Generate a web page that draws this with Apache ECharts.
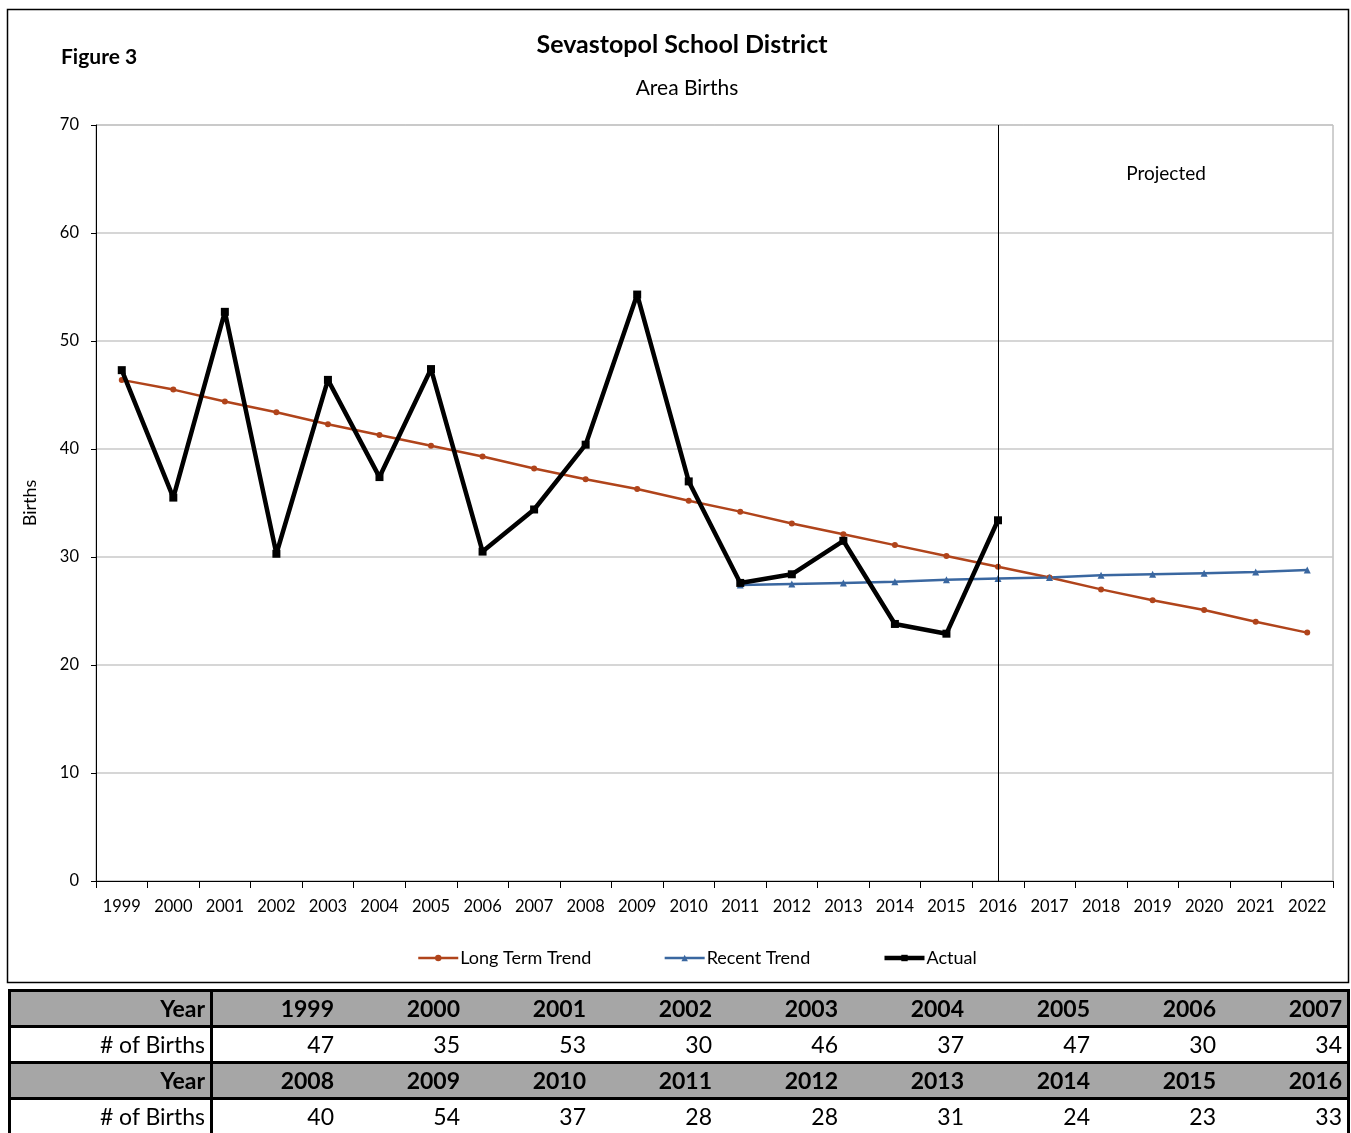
<!DOCTYPE html>
<html>
<head>
<meta charset="utf-8">
<script src="https://cdn.jsdelivr.net/npm/echarts@6/dist/echarts.min.js"></script>
<style>
  html, body { margin: 0; padding: 0; background: #fff; }
  #wrap { position: relative; width: 1351px; height: 1133px; overflow: hidden; }
  #chart { position: absolute; left: 0; top: 0; width: 1351px; height: 1133px; }
  #tbl { position: absolute; left: 8px; top: 989px; border-collapse: collapse;
         font-family: Lato, "Liberation Sans", sans-serif; font-size: 23px; }
  #tbl td { height: 33px; padding: 0 5px 0 0; text-align: right; line-height: 33px; }
  #tbl td.first { width: 194px; border-right: 3px solid #000; border-left: 3px solid #000; }
  #tbl td.num { width: 121px; }
  #tbl tr.hd td { background: #a6a6a6; font-weight: bold; border-top: 3px solid #000; border-bottom: 3px solid #000; }
  #tbl tr td:last-child { border-right: 3px solid #000; }
</style>
</head>
<body>
<div id="wrap">
  <div id="chart"></div>
  <table id="tbl"></table>
</div>
<script>
// 数据
var years = ['1999','2000','2001','2002','2003','2004','2005','2006','2007','2008','2009','2010',
             '2011','2012','2013','2014','2015','2016','2017','2018','2019','2020','2021','2022'];
var longTerm = [46.4, 45.5, 44.4, 43.4, 42.3, 41.3, 40.3, 39.3, 38.2, 37.2, 36.3, 35.2,
                34.2, 33.1, 32.1, 31.1, 30.1, 29.1, 28.1, 27.0, 26.0, 25.1, 24.0, 23.0];
var recent = ['-','-','-','-','-','-','-','-','-','-','-','-',
              27.4, 27.5, 27.6, 27.7, 27.9, 28.0, 28.1, 28.3, 28.4, 28.5, 28.6, 28.8];
var actual = [47.3, 35.5, 52.7, 30.3, 46.4, 37.4, 47.4, 30.5, 34.4, 40.4, 54.3, 37.0,
              27.6, 28.4, 31.5, 23.8, 22.9, 33.4];
var tableYears = [['1999','2000','2001','2002','2003','2004','2005','2006','2007'],
                  ['2008','2009','2010','2011','2012','2013','2014','2015','2016']];
var tableBirths = [[47, 35, 53, 30, 46, 37, 47, 30, 34],
                   [40, 54, 37, 28, 28, 31, 24, 23, 33]];

var font = 'Lato, "Liberation Sans", sans-serif';
var myChart = echarts.init(document.getElementById('chart'));

var option = {
  animation: false,
  textStyle: { fontFamily: font },
  title: [{
    text: 'Sevastopol School District',
    left: 677, top: 27, textAlign: 'center',
    textStyle: { fontSize: 25, fontWeight: 'bold', color: '#000', fontFamily: font }
  }, {
    text: 'Area Births',
    left: 682, top: 73, textAlign: 'center',
    textStyle: { fontSize: 21, fontWeight: 'normal', color: '#000', fontFamily: font }
  }, {
    text: 'Figure 3',
    left: 56, top: 42,
    textStyle: { fontSize: 21, fontWeight: 'bold', color: '#000', fontFamily: font }
  }],
  graphic: [{
    type: 'rect',
    shape: { x: 7.5, y: 9.5, width: 1341, height: 973 },
    style: { fill: 'none', stroke: '#000', lineWidth: 1.5 },
    silent: true
  }, {
    type: 'text',
    x: 1166, y: 174,
    style: { text: 'Projected', fontSize: 19, fill: '#000', align: 'center', verticalAlign: 'middle', fontFamily: font }
  }],
  legend: {
    left: 417, top: 949, padding: 0,
    itemWidth: 40, itemHeight: 8, itemGap: 72,
    textStyle: { fontSize: 18, color: '#000', fontFamily: font, padding: [0, 0, 0, -3] },
    data: [
      { name: 'Long Term Trend', lineStyle: { width: 2.5 } },
      { name: 'Recent Trend', lineStyle: { width: 2.5 } },
      { name: 'Actual', lineStyle: { width: 4.5 } }
    ]
  },
  grid: {
    left: 96, right: 18, top: 125, bottom: 252,
    show: true, borderColor: '#a0a0a0', borderWidth: 1
  },
  xAxis: {
    type: 'category',
    data: years,
    boundaryGap: true,
    axisLine: { lineStyle: { color: '#000', width: 1 } },
    axisTick: { show: true, length: 7, lineStyle: { color: '#000' } },
    axisLabel: { fontSize: 16.5, color: '#000', margin: 17, interval: 0, fontFamily: font }
  },
  yAxis: {
    type: 'value',
    min: 0, max: 70, interval: 10,
    name: 'Births', nameLocation: 'middle', nameRotate: 90, nameGap: 57,
    nameTextStyle: { fontSize: 18, color: '#000', fontFamily: font },
    axisLine: { show: true, lineStyle: { color: '#000', width: 1 } },
    axisTick: { show: true, length: 5, lineStyle: { color: '#000' } },
    axisLabel: { fontSize: 16.5, color: '#000', margin: 17, fontFamily: font },
    splitLine: { lineStyle: { color: '#c8c8c8', width: 1.5 } }
  },
  series: [{
    name: 'Long Term Trend',
    type: 'line',
    data: longTerm,
    symbol: 'circle', symbolSize: 6,
    lineStyle: { color: '#b0441b', width: 2.5 },
    itemStyle: { color: '#b0441b' },
    z: 3
  }, {
    name: 'Recent Trend',
    type: 'line',
    data: recent,
    symbol: 'triangle', symbolSize: 7,
    lineStyle: { color: '#3a67a0', width: 2.5 },
    itemStyle: { color: '#3a67a0' },
    z: 3
  }, {
    name: 'Actual',
    type: 'line',
    data: actual,
    symbol: 'rect', symbolSize: 8,
    lineStyle: { color: '#000', width: 4.5 },
    itemStyle: { color: '#000' },
    z: 4,
    markLine: {
      silent: true,
      symbol: 'none',
      label: { show: false },
      lineStyle: { color: '#000', width: 1, type: 'solid' },
      data: [{ xAxis: '2016' }]
    }
  }]
};
myChart.setOption(option);

// 表格
var tbl = document.getElementById('tbl');
var html = '';
for (var r = 0; r < tableYears.length; r++) {
  html += '<tr class="hd"><td class="first">Year</td>';
  for (var i = 0; i < tableYears[r].length; i++) html += '<td class="num">' + tableYears[r][i] + '</td>';
  html += '</tr><tr><td class="first"># of Births</td>';
  for (var j = 0; j < tableBirths[r].length; j++) html += '<td class="num">' + tableBirths[r][j] + '</td>';
  html += '</tr>';
}
tbl.innerHTML = html;
</script>
</body>
</html>
